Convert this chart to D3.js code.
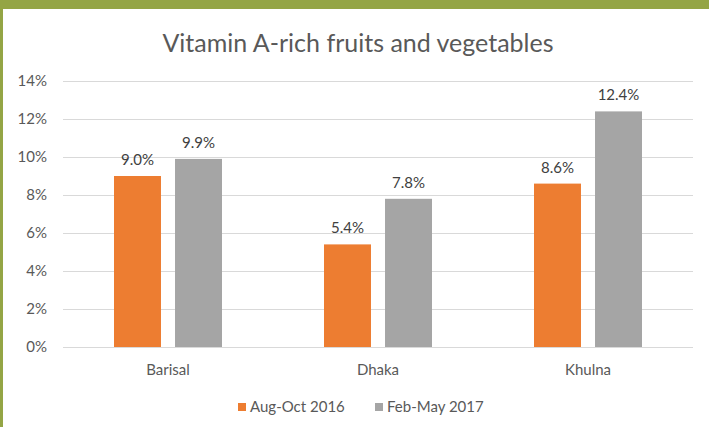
<!DOCTYPE html>
<html>
<head>
<meta charset="utf-8">
<script src="https://cdn.jsdelivr.net/npm/d3@7"></script>
<style>
  body { margin: 0; background: #fff; }
  svg { display: block; font-family: Lato, "Open Sans", sans-serif; }
</style>
</head>
<body>
<div id="chart"></div>
<script>
var width = 709, height = 427;

var regions = ["Barisal", "Dhaka", "Khulna"];
var seriesNames = ["Aug-Oct 2016", "Feb-May 2017"];
var aug2016 = [9.0, 5.4, 8.6];
var feb2017 = [9.9, 7.8, 12.4];
var yTicks = [0, 2, 4, 6, 8, 10, 12, 14];
var colors = ["#ED7D31", "#A5A5A5"];

var rows = regions.map((r, i) => ({region: r, values: [aug2016[i], feb2017[i]]}));

var margin = {top: 81, right: 15, bottom: 80, left: 63};

var svg = d3.select("#chart").append("svg")
    .attr("width", width)
    .attr("height", height);

// green frame
svg.append("rect").attr("x", 0).attr("y", 0).attr("width", width).attr("height", 9).attr("fill", "#94A545");
svg.append("rect").attr("x", 0).attr("y", 0).attr("width", 3).attr("height", height).attr("fill", "#94A545");

var x0 = d3.scaleBand()
    .domain(regions)
    .range([margin.left, width - margin.right - 1]);

var x1 = d3.scaleBand()
    .domain([0, 1])
    .range([x0.bandwidth() / 2 - 54, x0.bandwidth() / 2 + 54])
    .paddingInner(0.23);

var y = d3.scaleLinear()
    .domain([0, 14])
    .range([347, 81]);

// gridlines
svg.append("g")
    .selectAll("line")
    .data(yTicks)
    .join("line")
    .attr("x1", margin.left)
    .attr("x2", width - margin.right - 1)
    .attr("y1", d => Math.round(y(d)) + 0.5)
    .attr("y2", d => Math.round(y(d)) + 0.5)
    .attr("stroke", "#D9D9D9")
    .attr("stroke-width", 1);

// y labels
svg.append("g")
    .selectAll("text")
    .data(yTicks)
    .join("text")
    .attr("x", 47)
    .attr("y", d => y(d) + 5)
    .attr("text-anchor", "end")
    .attr("font-size", 15)
    .attr("fill", "#595959")
    .text(d => d + "%");

// bars
var groups = svg.append("g")
    .selectAll("g")
    .data(rows)
    .join("g")
    .attr("transform", d => `translate(${x0(d.region)},0)`);

groups.selectAll("rect")
    .data(d => d.values)
    .join("rect")
    .attr("x", (d, i) => x1(i))
    .attr("width", x1.bandwidth())
    .attr("y", d => y(d))
    .attr("height", d => y(0) - y(d))
    .attr("fill", (d, i) => colors[i]);

groups.selectAll("text")
    .data(d => d.values)
    .join("text")
    .attr("x", (d, i) => x1(i) + x1.bandwidth() / 2)
    .attr("y", d => y(d) - 11)
    .attr("text-anchor", "middle")
    .attr("font-size", 15)
    .attr("fill", "#404040")
    .text(d => d.toFixed(1) + "%");

// category labels
svg.append("g")
    .selectAll("text")
    .data(regions)
    .join("text")
    .attr("x", d => x0(d) + x0.bandwidth() / 2)
    .attr("y", 375)
    .attr("text-anchor", "middle")
    .attr("font-size", 15)
    .attr("fill", "#595959")
    .text(d => d);

// title
svg.append("text")
    .attr("x", 358)
    .attr("y", 52)
    .attr("text-anchor", "middle")
    .attr("font-size", 25)
    .attr("fill", "#595959")
    .text("Vitamin A-rich fruits and vegetables");

// legend
var legendX = [238, 375];
var legend = svg.append("g")
    .selectAll("g")
    .data(seriesNames)
    .join("g")
    .attr("transform", (d, i) => `translate(${legendX[i]},403)`);

legend.append("rect")
    .attr("width", 8)
    .attr("height", 8)
    .attr("fill", (d, i) => colors[i]);

legend.append("text")
    .attr("x", 12)
    .attr("y", 9)
    .attr("font-size", 15)
    .attr("fill", "#595959")
    .text(d => d);
</script>
</body>
</html>
